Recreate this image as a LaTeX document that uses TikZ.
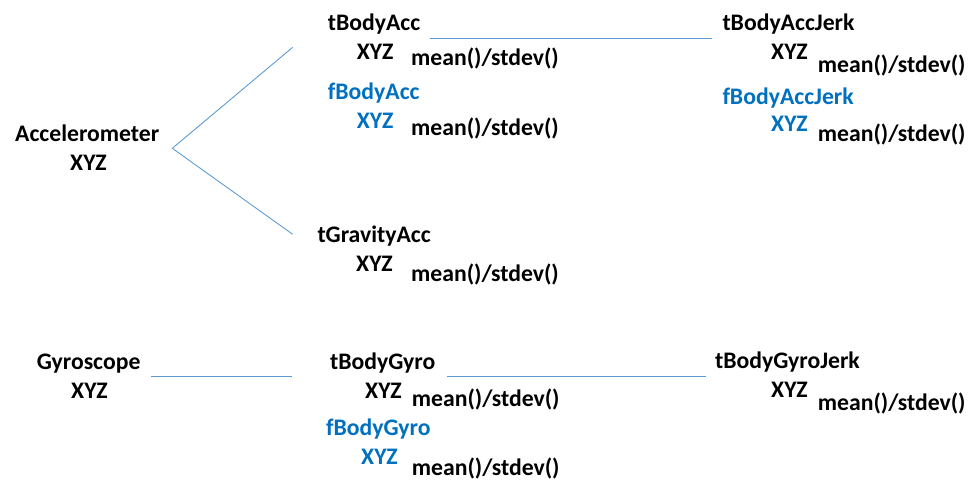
\documentclass[tikz,border=0pt]{standalone}
\usepackage{fontspec}
\setmainfont{Carlito}
\definecolor{txtblue}{RGB}{0,112,192}
\definecolor{lineblue}{RGB}{91,155,213}
\begin{document}
\begin{tikzpicture}[x=1pt,y=-1pt,
  lbl/.style={anchor=base west,inner sep=0pt,font=\fontsize{23.7}{27}\selectfont\bfseries},
  blbl/.style={lbl,text=txtblue},
  conn/.style={draw=lineblue,line width=0.9pt}]
\useasboundingbox (0,0) rectangle (980,496);
% Accelerometer
\node[lbl] (acc) at (15,141.7) {Accelerometer};
\node[lbl] (accxyz) at (70,170) {XYZ};
% tBodyAcc
\node[lbl] (tba) at (327.7,30) {tBodyAcc};
\node[lbl] (tbaxyz) at (356.7,59.3) {XYZ};
\node[lbl] (tbams) at (411,65) {mean()/stdev()};
\node[blbl] (fba) at (327.7,99.3) {fBodyAcc};
\node[blbl] (fbaxyz) at (356.7,128.3) {XYZ};
\node[lbl] (fbams) at (411,135) {mean()/stdev()};
% tBodyAccJerk
\node[lbl] (tbaj) at (722.3,30) {tBodyAccJerk};
\node[lbl] (tbajxyz) at (771,59.3) {XYZ};
\node[lbl] (tbajms) at (817.7,72.7) {mean()/stdev()};
\node[blbl] (fbaj) at (722.3,104) {fBodyAccJerk};
\node[blbl] (fbajxyz) at (771,131) {XYZ};
\node[lbl] (fbajms) at (817.7,141.7) {mean()/stdev()};
% tGravityAcc
\node[lbl] (tga) at (317.3,242.7) {tGravityAcc};
\node[lbl] (tgaxyz) at (356,271) {XYZ};
\node[lbl] (tgams) at (411,281.7) {mean()/stdev()};
% Gyroscope
\node[lbl] (gyr) at (36.7,369.3) {Gyroscope};
\node[lbl] (gyrxyz) at (71,398.3) {XYZ};
% tBodyGyro
\node[lbl] (tbg) at (330,369.3) {tBodyGyro};
\node[lbl] (tbgxyz) at (365,398.3) {XYZ};
\node[lbl] (tbgms) at (411.7,406.7) {mean()/stdev()};
\node[blbl] (fbg) at (326,435) {fBodyGyro};
\node[blbl] (fbgxyz) at (361,464) {XYZ};
\node[lbl] (fbgms) at (411.7,475) {mean()/stdev()};
% tBodyGyroJerk
\node[lbl] (tbgj) at (715,368.3) {tBodyGyroJerk};
\node[lbl] (tbgjxyz) at (771,397.3) {XYZ};
\node[lbl] (tbgjms) at (817.7,410) {mean()/stdev()};
% connector end points
\coordinate (vA) at (172.3,148.3);
\coordinate (eTop) at (292.7,47.3);
\coordinate (eBot) at (292.7,234.3);
\coordinate (h1a) at (430,38.3);
\coordinate (h1b) at (711.7,38.3);
\coordinate (g1a) at (151,376);
\coordinate (g1b) at (292,376);
\coordinate (g2a) at (446.7,376);
\coordinate (g2b) at (706,376);
\draw[conn] (eTop) -- (vA) -- (eBot);
\draw[conn] (h1a) -- (h1b);
\draw[conn] (g1a) -- (g1b);
\draw[conn] (g2a) -- (g2b);
\end{tikzpicture}
\end{document}
